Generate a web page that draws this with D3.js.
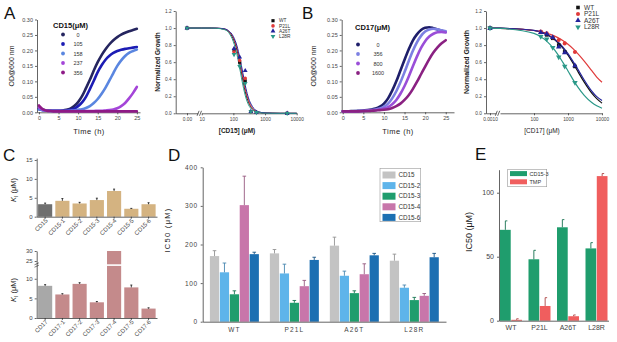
<!DOCTYPE html>
<html>
<head>
<meta charset="utf-8">
<script src="https://d3js.org/d3.v7.min.js"></script>
<style>
  body { margin: 0; background: #fff; }
  svg { font-family: "Liberation Sans", Arial, sans-serif; }
  .axis path, .axis line { stroke: #222; stroke-width: 0.7; fill: none; }
  .axis text { fill: #444; font-family: "Liberation Sans", Arial, sans-serif; }
</style>
</head>
<body>
<svg id="fig" width="617" height="342"></svg>
<script>
// ---------------- data ----------------
var hours = [0,1,2,3,4,5,6,7,8,9,10,11,12,13,14,15,16,17,18,19,20,21,22,23,24,25];

var cd15Doses = ["0", "105", "158", "237", "356"];
var growth15 = [
  [.012,.008,.006,.005,.005,.005,.006,.008,.012,.020,.033,.052,.078,.105,.135,.162,.185,.204,.220,.233,.243,.251,.257,.262,.266,.270],
  [.010,.007,.005,.005,.005,.005,.005,.006,.008,.012,.020,.032,.050,.075,.102,.130,.152,.170,.183,.192,.198,.202,.205,.207,.209,.211],
  [.010,.007,.005,.004,.004,.004,.004,.004,.005,.006,.008,.010,.014,.020,.030,.043,.060,.080,.103,.127,.150,.168,.182,.192,.198,.203],
  [.016,.008,.005,.004,.004,.004,.004,.004,.004,.004,.004,.004,.004,.004,.004,.005,.005,.006,.007,.009,.013,.020,.030,.045,.062,.082],
  [.022,.010,.005,.004,.003,.003,.003,.003,.003,.003,.003,.003,.003,.003,.003,.003,.003,.003,.003,.003,.003,.003,.003,.003,.003,.003]
];
var cd17Doses = ["0", "356", "800", "1600"];
var growth17 = [
  [.003,.003,.004,.004,.005,.006,.007,.009,.012,.018,.028,.045,.070,.100,.135,.170,.203,.232,.252,.266,.273,.275,.272,.268,.264,.260],
  [.003,.003,.003,.004,.004,.005,.006,.007,.009,.012,.018,.028,.045,.068,.097,.130,.165,.198,.226,.247,.261,.268,.270,.268,.265,.262],
  [.003,.003,.003,.003,.004,.004,.005,.006,.007,.009,.012,.017,.026,.040,.060,.085,.115,.148,.180,.208,.230,.245,.254,.259,.260,.258],
  [.003,.003,.003,.003,.003,.004,.004,.005,.006,.007,.008,.010,.014,.020,.028,.040,.055,.075,.098,.123,.148,.172,.193,.210,.223,.233]
];

var strains = ["WT", "P21L", "A26T", "L28R"];

var fitConc15 = [0, 10, 20, 30, 50, 70, 100, 130, 160, 200, 250, 300, 400, 600, 1000, 3000, 10000];
var fit15 = [
  [1, 1, 1, .998, .988, .96, .87, .74, .58, .39, .22, .13, .05, .013, .003, 0, 0],
  [1, 1, 1, .998, .99, .965, .885, .76, .61, .42, .25, .15, .06, .016, .004, 0, 0],
  [1, 1, 1, .999, .992, .97, .9, .79, .65, .47, .29, .18, .08, .02, .005, 0, 0],
  [1, 1, 1, .997, .984, .95, .84, .69, .52, .33, .18, .1, .04, .01, .002, 0, 0]
];
var ptConc15 = [0, 105, 158, 237, 356, 534, 5000];
var pts15 = [
  [1, .74, .60, .38, .02, .01, 0],
  [1, .72, .62, .41, .02, .01, 0],
  [1, .76, .66, .50, .02, .01, 0],
  [1, .69, .55, .35, .02, .01, 0]
];

var fitConc17 = [0, 10, 100, 200, 300, 500, 700, 1000, 1500, 2000, 3000, 5000, 7000, 10000];
var fit17 = [
  [1, .998, .971, .937, .901, .831, .767, .682, .569, .483, .365, .237, .172, .119],
  [1, .996, .971, .948, .926, .888, .855, .81, .747, .695, .613, .5, .425, .365],
  [1, .998, .973, .94, .905, .84, .78, .70, .59, .51, .39, .26, .195, .15],
  [1, .996, .938, .87, .805, .692, .60, .496, .377, .301, .21, .126, .088, .06]
];
var ptConc17 = [0, 158, 237, 356, 534, 800, 1600];
var pts17 = [
  [1, .95, .92, .88, .80, .72, .55],
  [1, .96, .94, .89, .86, .82, .72],
  [1, .95, .93, .89, .78, .71, .56],
  [1, .90, .87, .77, .66, .55, .36]
];

var kiNames15 = ["CD15", "CD15-1", "CD15-2", "CD15-3", "CD15-4", "CD15-5", "CD15-6"];
var ki15 = [3.3, 4.2, 3.5, 4.4, 6.8, 2.1, 3.3];
var ki15Err = [0.3, 0.6, 0.3, 0.5, 0.5, 0.1, 0.4];
var kiNames17 = ["CD17", "CD17-1", "CD17-2", "CD17-3", "CD17-4", "CD17-5", "CD17-6"];
var ki17 = [8.2, 6.0, 8.7, 4.0, 30, 7.8, 2.4];
var ki17Err = [0.3, 0.2, 0.3, 0.2, 0, 0.6, 0.2];

var ic50Compounds = ["CD15", "CD15-2", "CD15-3", "CD15-4", "CD15-6"];
var ic50D = [[170, 128, 71, 302, 175], [177, 125, 49, 92, 160], [197, 119, 74, 123, 172], [158, 88, 56, 67, 167]];
var ic50DErr = [[14, 24, 9, 75, 5], [10, 24, 6, 15, 7], [22, 12, 6, 27, 5], [17, 7, 7, 6, 10]];

var ic50Drugs = ["CD15-3", "TMP"];
var ic50E = [[71, 0.7], [48, 11.5], [73, 3.5], [56.5, 113]];
var ic50EErr = [[7, 0.8], [7, 6.5], [6, 1], [4.5, 2]];

// ---------------- drawing ----------------
var svg = d3.select("#fig");

var letters = [["A", 4, 19], ["B", 302, 19], ["C", 3, 161], ["D", 168, 161], ["E", 475, 160]];
svg.selectAll(".letter").data(letters).enter().append("text")
    .attr("class", "letter")
    .attr("x", function (d) { return d[1]; })
    .attr("y", function (d) { return d[2]; })
    .attr("font-size", 17)
    .attr("fill", "#111")
    .text(function (d) { return d[0]; });

function label(x, y, txt, size, opts) {
    opts = opts || {};
    var t = svg.append("text")
        .attr("transform", "translate(" + x + "," + y + ")" + (opts.rot ? " rotate(-90)" : ""))
        .attr("text-anchor", "middle")
        .attr("font-size", size)
        .attr("fill", "#222")
        .attr("font-weight", opts.bold ? "bold" : null)
        .style("letter-spacing", opts.ls || null)
        .text(txt);
    return t;
}

function drawGrowth(o) {
    var x = d3.scaleLinear().domain(o.xDomain).range(o.xRange),
        y = d3.scaleLinear().domain([0, 0.3]).range([112.3, 19.5]);
    var g = svg.append("g");

    g.append("g").attr("class", "axis")
        .attr("transform", "translate(0,112.3)")
        .call(d3.axisBottom(x).tickValues([0, 5, 10, 15, 20, 25]).tickSize(2).tickSizeOuter(0).tickPadding(2))
        .selectAll("text").style("font-size", "5.5px");
    g.append("g").attr("class", "axis")
        .attr("transform", "translate(" + o.xRange[0] + ",0)")
        .call(d3.axisLeft(y).tickValues([0, .05, .1, .15, .2, .25, .3]).tickFormat(d3.format(".2f")).tickSize(2).tickSizeOuter(0).tickPadding(2))
        .selectAll("text").style("font-size", "5.5px");

    var line = d3.line()
        .x(function (d, i) { return x(hours[i]); })
        .y(function (d) { return y(d); })
        .curve(d3.curveMonotoneX);

    g.selectAll(".gc").data(o.series).enter().append("path")
        .attr("d", line)
        .attr("fill", "none")
        .attr("stroke", function (d, i) { return o.colors[i]; })
        .attr("stroke-width", 2.6)
        .attr("stroke-linecap", "round");

    g.append("text").attr("x", o.legX).attr("y", o.legY)
        .attr("font-size", 7.5).attr("font-weight", "bold").attr("fill", "#111")
        .text(o.title);
    var rows = g.selectAll(".lg").data(o.doses).enter().append("g")
        .attr("transform", function (d, i) { return "translate(0," + (o.legY + o.rowStart + i * 9.5) + ")"; });
    rows.append("circle").attr("cx", o.legX + o.mx).attr("cy", -2).attr("r", 1.9)
        .attr("fill", function (d, i) { return o.colors[i]; });
    rows.append("text").attr("x", o.legX + o.lx).attr("text-anchor", "middle")
        .attr("font-size", 5.5).attr("fill", "#333")
        .text(function (d) { return d; });
}

drawGrowth({
    xDomain: [-0.5, 25.8], xRange: [37, 140],
    series: growth15, doses: cd15Doses,
    colors: ["#25255f", "#1c1cb4", "#5a86e0", "#a445d8", "#8e1a86"],
    title: "CD15(\u03bcM)", legX: 53, legY: 28, rowStart: 8.5, mx: 10, lx: 25
});
drawGrowth({
    xDomain: [-0.25, 27], xRange: [341.7, 454],
    series: growth17, doses: cd17Doses,
    colors: ["#1e1e6a", "#7c80e2", "#9a4ed8", "#8a2182"],
    title: "CD17(\u03bcM)", legX: 355, legY: 30, rowStart: 16.5, mx: 3, lx: 23
});
label(14, 66, "OD@600 nm", 7, { rot: true });
label(316, 66, "OD@600 nm", 7, { rot: true });
label(89, 134, "Time (h)", 7.5, { ls: "0.5px" });
label(398, 134, "Time (h)", 7.5, { ls: "0.5px" });

var strainColors = ["#111111", "#e03a3a", "#23239c", "#2a9888"];
var strainShapes = [d3.symbolSquare, d3.symbolCircle, d3.symbolTriangle, d3.symbolTriangle];

function drawDose(o) {
    var y = d3.scaleLinear().domain([0, 1.2]).range([113.3, 11]),
        xl = d3.scaleLog().domain([10, 10000]).range(o.logRange),
        xz = d3.scaleLinear().domain([o.axisX - o.zeroX, o.breakX - 1.5 - o.zeroX]).range([o.axisX, o.breakX - 1.5]);
    function px(c) { return c === 0 ? o.zeroX : xl(c); }
    var g = svg.append("g");

    g.append("g").attr("class", "axis").attr("transform", "translate(0,113.3)")
        .call(d3.axisBottom(xz).tickValues([0]).tickFormat(function () { return o.zeroLabel; }).tickSize(2).tickSizeOuter(0).tickPadding(2))
        .selectAll("text").style("font-size", o.fs + "px");
    g.append("g").attr("class", "axis").attr("transform", "translate(0,113.3)")
        .call(d3.axisBottom(xl).tickValues(o.ticks).tickFormat(d3.format("d")).tickSize(2).tickSizeOuter(0).tickPadding(2))
        .selectAll("text").style("font-size", o.fs + "px");
    g.append("g").attr("class", "axis").attr("transform", "translate(" + o.axisX + ",0)")
        .call(d3.axisLeft(y).tickValues([0, .2, .4, .6, .8, 1, 1.2]).tickFormat(d3.format(".1f")).tickSize(2).tickSizeOuter(0).tickPadding(2))
        .selectAll("text").style("font-size", o.fs + "px");
    [-1.2, 1.2].forEach(function (dx) {
        g.append("line")
            .attr("x1", o.breakX + dx - 1).attr("y1", 115.8)
            .attr("x2", o.breakX + dx + 1).attr("y2", 110.8)
            .attr("stroke", "#222").attr("stroke-width", 0.7);
    });

    var line = d3.line()
        .x(function (d, i) { return px(o.fitConc[i]); })
        .y(function (d) { return y(d); })
        .curve(d3.curveMonotoneX);
    g.selectAll(".fit").data(o.fits).enter().append("path")
        .attr("d", line).attr("fill", "none")
        .attr("stroke", function (d, i) { return strainColors[i]; })
        .attr("stroke-width", o.lw);

    o.pts.forEach(function (vals, s) {
        g.selectAll(".p" + s).data(vals).enter().append("path")
            .attr("d", d3.symbol().type(strainShapes[s]).size(o.ms))
            .attr("fill", strainColors[s])
            .attr("transform", function (d, i) {
                return "translate(" + px(o.ptConc[i]) + "," + y(d) + ")" + (s === 3 ? " rotate(180)" : "");
            });
    });

    var leg = g.selectAll(".leg").data(strains).enter().append("g")
        .attr("transform", function (d, i) { return "translate(" + o.legX + "," + (o.legY + i * o.legStep) + ")"; });
    leg.append("path")
        .attr("d", function (d, i) { return d3.symbol().type(strainShapes[i]).size(o.ms)(); })
        .attr("fill", function (d, i) { return strainColors[i]; })
        .attr("transform", function (d, i) { return i === 3 ? "rotate(180)" : null; });
    leg.append("text").attr("x", 6).attr("dy", "0.35em")
        .attr("font-size", o.legFs).attr("fill", "#333")
        .text(function (d) { return d; });
}

drawDose({
    axisX: 175.7, zeroX: 187, breakX: 199.3, logRange: [201.7, 296.7],
    zeroLabel: "0.00", ticks: [10, 100, 1000, 10000], fs: 4.8,
    fitConc: fitConc15, fits: fit15, ptConc: ptConc15, pts: pts15,
    lw: 1, ms: 10, legX: 273, legY: 20.7, legStep: 5.2, legFs: 4.8
});
drawDose({
    axisX: 486, zeroX: 490, breakX: 497.5, logRange: [500, 602],
    zeroLabel: "0.0010", ticks: [100, 1000, 10000], fs: 4.8,
    fitConc: fitConc17, fits: fit17, ptConc: ptConc17, pts: pts17,
    lw: 1.2, ms: 13, legX: 578, legY: 7.5, legStep: 6.5, legFs: 6.5
});
label(160, 62, "Normalized Growth", 6.5, { rot: true, bold: true });
label(469, 62, "Normalized Growth", 7, { rot: true, bold: true });
label(237, 133, "[CD15] (\u03bcM)", 6.5, { bold: true });
label(542, 133, "[CD17] (\u03bcM)", 6.5, {});

// ---- panel C ----
function drawKi(o) {
    var x = d3.scaleBand().domain(o.names).range([36.7, 157]).paddingInner(0.18).paddingOuter(0.08),
        y = o.y;
    var g = svg.append("g");
    g.selectAll(".bar").data(o.vals).enter().append("rect")
        .attr("x", function (d, i) { return x(o.names[i]); })
        .attr("y", function (d) { return y(d); })
        .attr("width", x.bandwidth())
        .attr("height", function (d) { return y(0) - y(d); })
        .attr("fill", function (d, i) { return i === 0 ? o.c0 : o.c1; });
    g.selectAll(".err").data(o.vals).enter().append("path")
        .attr("d", function (d, i) {
            if (!o.err[i]) return null;
            var cx = x(o.names[i]) + x.bandwidth() / 2, yt = y(d + o.err[i]);
            return "M" + cx + "," + y(d) + "V" + yt + "M" + (cx - 1) + "," + yt + "H" + (cx + 1);
        })
        .attr("stroke", "#111").attr("stroke-width", 0.8).attr("fill", "none");

    g.append("g").attr("class", "axis").attr("transform", "translate(0," + y(0) + ")")
        .call(d3.axisBottom(x).tickSize(2).tickSizeOuter(0))
        .selectAll("text")
        .style("font-size", "6px").style("text-anchor", "end")
        .attr("x", -1).attr("y", 3).attr("dy", "0.35em")
        .attr("transform", "rotate(-45)");
    g.append("g").attr("class", "axis").attr("transform", "translate(36.7,0)")
        .call(d3.axisLeft(y).tickValues(o.ticks).tickSize(2).tickSizeOuter(0).tickPadding(2))
        .selectAll("text").style("font-size", "6px");

    var t = svg.append("text")
        .attr("transform", "translate(" + 16 + "," + o.titleY + ") rotate(-90)")
        .attr("text-anchor", "middle").attr("font-size", 7.5).attr("fill", "#222");
    t.append("tspan").attr("font-style", "italic").text("K");
    t.append("tspan").attr("font-size", 5).attr("dy", 1.5).text("I");
    t.append("tspan").attr("dy", -1.5).text(" (\u03bcM)");
    return { g: g, x: x, y: y };
}

drawKi({
    names: kiNames15, vals: ki15, err: ki15Err,
    y: d3.scaleLinear().domain([0, 15.5]).range([216.7, 158.1]),
    ticks: [0, 5, 10, 15], c0: "#6f6f6f", c1: "#d4b381", titleY: 190
});
var c2 = drawKi({
    names: kiNames17, vals: ki17, err: ki17Err,
    y: d3.scaleLinear().domain([0, 13, 24, 30]).range([318, 267, 263, 251]),
    ticks: [0, 5, 10, 25, 30], c0: "#a8a8a8", c1: "#c48a8b", titleY: 290
});
// break on CD17-4 bar and axis
c2.g.append("rect")
    .attr("x", c2.x("CD17-4") - 1).attr("y", 264.3)
    .attr("width", c2.x.bandwidth() + 2).attr("height", 1.6)
    .attr("fill", "#fff");
[-1, 1].forEach(function (dy) {
    c2.g.append("line")
        .attr("x1", 34.5).attr("y1", 265 + dy * 1.2 + 1)
        .attr("x2", 38.9).attr("y2", 265 + dy * 1.2 - 1)
        .attr("stroke", "#222").attr("stroke-width", 0.6);
});

// ---- panel D ----
var dColors = ["#c3c3c3", "#5eb4ea", "#1f9d6d", "#c876aa", "#1c6fb2"];
(function () {
    var x0 = d3.scaleBand().domain(strains).range([202.7, 446]).paddingInner(0.183).paddingOuter(0.12),
        x1 = d3.scaleBand().domain(ic50Compounds).range([0, x0.bandwidth()]).paddingInner(0.07).paddingOuter(0),
        y = d3.scaleLinear().domain([0, 400]).range([321.7, 167.3]);
    var g = svg.append("g");
    var grp = g.selectAll(".grp").data(ic50D).enter().append("g")
        .attr("transform", function (d, i) { return "translate(" + x0(strains[i]) + ",0)"; });
    grp.each(function (vals, s) {
        var gg = d3.select(this);
        gg.selectAll("rect").data(vals).enter().append("rect")
            .attr("x", function (d, i) { return x1(ic50Compounds[i]); })
            .attr("y", function (d) { return y(d); })
            .attr("width", x1.bandwidth())
            .attr("height", function (d) { return y(0) - y(d); })
            .attr("fill", function (d, i) { return dColors[i]; });
        gg.selectAll(".err").data(vals).enter().append("path")
            .attr("d", function (d, i) {
                var cx = x1(ic50Compounds[i]) + x1.bandwidth() / 2, yt = y(d + ic50DErr[s][i]);
                return "M" + cx + "," + y(d) + "V" + yt + "M" + (cx - 1.8) + "," + yt + "H" + (cx + 1.8);
            })
            .attr("stroke", function (d, i) { return d3.color(dColors[i]).darker(0.8); })
            .attr("stroke-width", 0.9).attr("fill", "none");
    });
    g.append("g").attr("class", "axis").attr("transform", "translate(0,321.7)")
        .call(d3.axisBottom(x0).tickSize(0).tickSizeOuter(0).tickPadding(6))
        .selectAll("text").style("font-size", "6.5px").style("letter-spacing", "1.2px");
    g.append("g").attr("class", "axis").attr("transform", "translate(202.7,0)")
        .call(d3.axisLeft(y).tickValues([0, 100, 200, 300, 400]).tickSize(2).tickSizeOuter(0).tickPadding(3))
        .selectAll("text").style("font-size", "6.5px").style("letter-spacing", "0.6px");

    var leg = g.append("g");
    leg.append("rect").attr("x", 380).attr("y", 168.3).attr("width", 40.7).attr("height", 53.4)
        .attr("fill", "#fff").attr("stroke", "#999").attr("stroke-width", 0.6);
    var rows = leg.selectAll(".row").data(ic50Compounds).enter().append("g")
        .attr("transform", function (d, i) { return "translate(382.5," + (175 + i * 10.6) + ")"; });
    rows.append("rect").attr("y", -3.5).attr("width", 13).attr("height", 7)
        .attr("fill", function (d, i) { return dColors[i]; });
    rows.append("text").attr("x", 16).attr("dy", "0.35em")
        .attr("font-size", 6.3).attr("fill", "#333").text(function (d) { return d; });
})();
label(170, 230, "IC50 (\u03bcM)", 7.5, { rot: true, ls: "1.3px" });

// ---- panel E ----
var eColors = ["#1f9d6d", "#f05e5e"];
(function () {
    var x0 = d3.scaleBand().domain(strains).range([499, 608.5]).paddingInner(0.228).paddingOuter(0.035),
        x1 = d3.scaleBand().domain(ic50Drugs).range([0, x0.bandwidth()]).paddingInner(0.05).paddingOuter(0),
        y = d3.scaleLinear().domain([0, 118]).range([320.7, 169.7]);
    var g = svg.append("g");
    var grp = g.selectAll(".grp").data(ic50E).enter().append("g")
        .attr("transform", function (d, i) { return "translate(" + x0(strains[i]) + ",0)"; });
    grp.each(function (vals, s) {
        var gg = d3.select(this);
        gg.selectAll("rect").data(vals).enter().append("rect")
            .attr("x", function (d, i) { return x1(ic50Drugs[i]); })
            .attr("y", function (d) { return y(d); })
            .attr("width", x1.bandwidth())
            .attr("height", function (d) { return y(0) - y(d); })
            .attr("fill", function (d, i) { return eColors[i]; });
        gg.selectAll(".err").data(vals).enter().append("path")
            .attr("d", function (d, i) {
                var cx = x1(ic50Drugs[i]) + x1.bandwidth() / 2, yt = y(d + ic50EErr[s][i]);
                return "M" + cx + "," + y(d) + "V" + yt + "M" + cx + "," + yt + "H" + (cx + 2);
            })
            .attr("stroke", function (d, i) { return d3.color(eColors[i]).darker(0.9); })
            .attr("stroke-width", 0.9).attr("fill", "none");
    });
    g.append("g").attr("class", "axis").attr("transform", "translate(0,320.7)")
        .call(d3.axisBottom(x0).tickSize(0).tickSizeOuter(0).tickPadding(4))
        .selectAll("text").style("font-size", "7px");
    g.append("g").attr("class", "axis").attr("transform", "translate(499,0)")
        .call(d3.axisLeft(y).tickValues([0, 50, 100]).tickSize(2).tickSizeOuter(0).tickPadding(3))
        .selectAll("text").style("font-size", "7px");

    var leg = g.append("g");
    leg.append("rect").attr("x", 507.7).attr("y", 169.3).attr("width", 39).attr("height", 17.4)
        .attr("fill", "#fff").attr("stroke", "#999").attr("stroke-width", 0.6);
    var rows = leg.selectAll(".row").data(ic50Drugs).enter().append("g")
        .attr("transform", function (d, i) { return "translate(510," + (173.6 + i * 8.2) + ")"; });
    rows.append("rect").attr("y", -2.5).attr("width", 17).attr("height", 5)
        .attr("fill", function (d, i) { return eColors[i]; });
    rows.append("text").attr("x", 19.5).attr("dy", "0.35em")
        .attr("font-size", 5.5).attr("fill", "#333").text(function (d) { return d; });
})();
label(472, 232, "IC50 (\u03bcM)", 9, { rot: true });
</script>
</body>
</html>
